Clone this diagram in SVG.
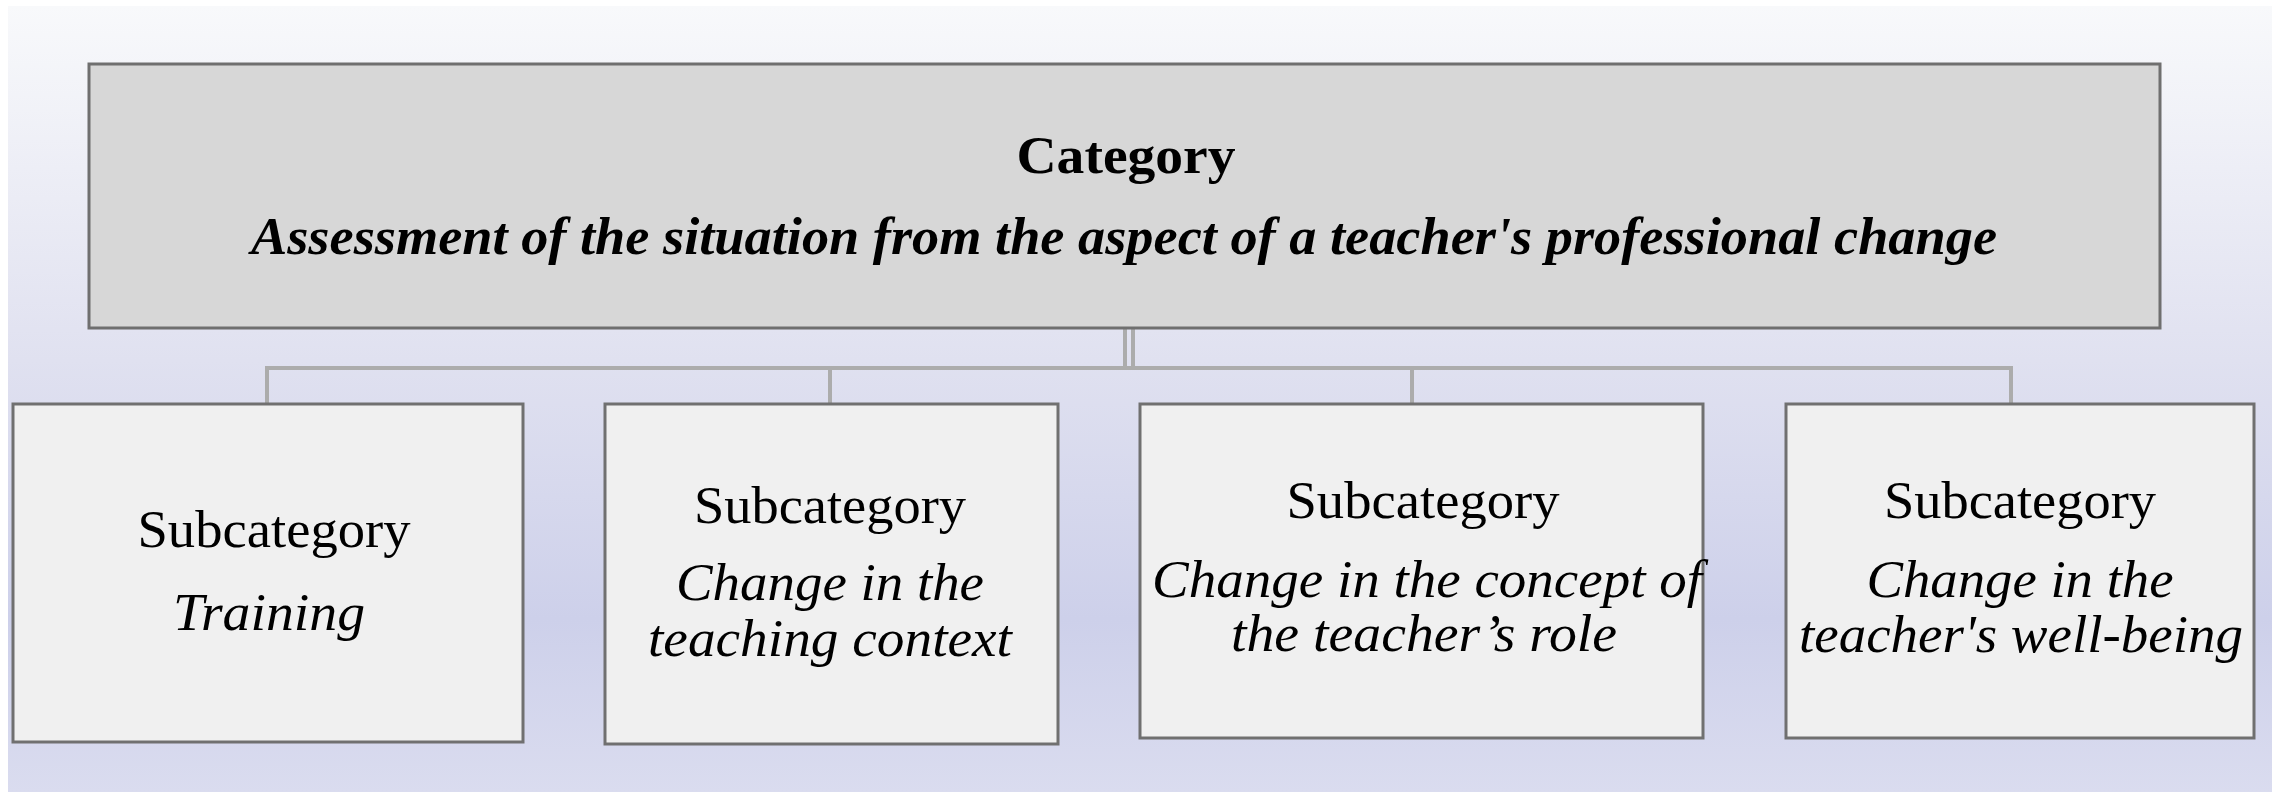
<svg xmlns="http://www.w3.org/2000/svg" width="2277" height="792" viewBox="0 0 2277 792">
  <defs>
    <linearGradient id="bg" x1="0" y1="0" x2="0" y2="1">
      <stop offset="0" stop-color="#f8f9fb"/>
      <stop offset="0.45" stop-color="#e0e1f0"/>
      <stop offset="0.78" stop-color="#cdd0ea"/>
      <stop offset="1" stop-color="#dadcef"/>
    </linearGradient>
  </defs>
  <style>
    .top { fill: #d7d7d7; stroke: #6f6f6f; stroke-width: 3; }
    .sub { fill: #f0f0f0; stroke: #707070; stroke-width: 3; }
    .conn { stroke: #acacac; stroke-width: 4; fill: none; }
    .t { font-family: "Liberation Serif", "Times New Roman", serif; fill: #000; text-anchor: middle; }
    .hb { font-size: 52px; font-weight: bold; }
    .hi { font-size: 52px; font-weight: bold; font-style: italic; }
    .r { font-size: 52px; }
    .i { font-size: 52px; font-style: italic; }
  </style>
  <rect x="0" y="0" width="2277" height="792" fill="#ffffff"/>
  <rect x="8" y="6" width="2264" height="786" fill="url(#bg)"/>

  <g id="connectors">
    <line class="conn" x1="1125" y1="328" x2="1125" y2="368" stroke-width="3"/>
    <line class="conn" x1="1133" y1="328" x2="1133" y2="368" stroke-width="3"/>
    <line class="conn" x1="265" y1="368" x2="2013" y2="368"/>
    <line class="conn" x1="267" y1="368" x2="267" y2="403" stroke-width="3"/>
    <line class="conn" x1="830" y1="368" x2="830" y2="403" stroke-width="3"/>
    <line class="conn" x1="1412" y1="368" x2="1412" y2="403" stroke-width="3"/>
    <line class="conn" x1="2011" y1="368" x2="2011" y2="403" stroke-width="3"/>
  </g>

  <g id="category">
    <rect class="top" x="89" y="64" width="2071" height="264"/>
    <text class="t hb" x="1126" y="173" textLength="219" lengthAdjust="spacingAndGlyphs">Category</text>
    <text class="t hi" x="1124" y="254" textLength="1746" lengthAdjust="spacingAndGlyphs">Assessment of the situation from the aspect of a teacher's professional change</text>
  </g>

  <g id="sub-training">
    <rect class="sub" x="13" y="404" width="510" height="338"/>
    <text class="t r" x="274" y="547" textLength="273" lengthAdjust="spacingAndGlyphs">Subcategory</text>
    <text class="t i" x="269" y="630" textLength="192" lengthAdjust="spacingAndGlyphs">Training</text>
  </g>

  <g id="sub-context">
    <rect class="sub" x="605" y="404" width="453" height="340"/>
    <text class="t r" x="830" y="523" textLength="272" lengthAdjust="spacingAndGlyphs">Subcategory</text>
    <text class="t i" x="830" y="600" textLength="308" lengthAdjust="spacingAndGlyphs">Change in the</text>
    <text class="t i" x="830" y="656" textLength="364" lengthAdjust="spacingAndGlyphs">teaching context</text>
  </g>

  <g id="sub-role">
    <rect class="sub" x="1140" y="404" width="563" height="334"/>
    <text class="t r" x="1423" y="518" textLength="273" lengthAdjust="spacingAndGlyphs">Subcategory</text>
    <text class="t i" x="1427" y="597" textLength="550" lengthAdjust="spacingAndGlyphs">Change in the concept of</text>
    <text class="t i" x="1424" y="651" textLength="386" lengthAdjust="spacingAndGlyphs">the teacher’s role</text>
  </g>

  <g id="sub-wellbeing">
    <rect class="sub" x="1786" y="404" width="468" height="334"/>
    <text class="t r" x="2020" y="518" textLength="272" lengthAdjust="spacingAndGlyphs">Subcategory</text>
    <text class="t i" x="2020" y="597" textLength="307" lengthAdjust="spacingAndGlyphs">Change in the</text>
    <text class="t i" x="2021" y="652" textLength="444" lengthAdjust="spacingAndGlyphs">teacher's well-being</text>
  </g>
</svg>
